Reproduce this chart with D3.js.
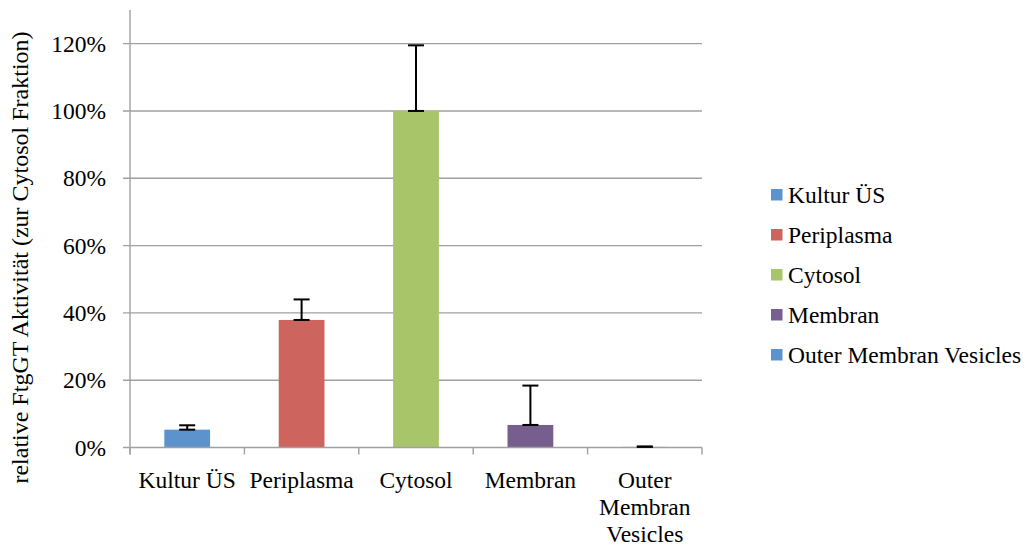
<!DOCTYPE html>
<html>
<head>
<meta charset="utf-8">
<script src="https://cdnjs.cloudflare.com/ajax/libs/d3/7.8.5/d3.min.js"></script>
<style>
  html, body { margin: 0; padding: 0; background: #fff; }
  svg { display: block; }
</style>
</head>
<body>
<svg id="chart" width="1027" height="547"></svg>
<script>
// Fractions and their FtgGT activity relative to the cytosol fraction
const categories = ["Kultur ÜS", "Periplasma", "Cytosol", "Membran", "Outer Membran Vesicles"];
const axisLabels = [["Kultur ÜS"], ["Periplasma"], ["Cytosol"], ["Membran"], ["Outer", "Membran", "Vesicles"]];
const values = [0.053, 0.379, 1.0, 0.067, 0.002];
const errors = [0.013, 0.061, 0.195, 0.117, 0.001];
const colors = ["#5C93CD", "#CD645D", "#A8C56A", "#765E8E", "#9DBEE3"];
const legendColors = ["#5C93CD", "#CD645D", "#A8C56A", "#765E8E", "#5C93CD"];
const yTicks = [0, 0.2, 0.4, 0.6, 0.8, 1.0, 1.2];
const yTitle = "relative FtgGT Aktivität (zur Cytosol Fraktion)";

(function () {
  const serif = "'Liberation Serif', 'DejaVu Serif', serif";
  const svg = d3.select("#chart")
    .attr("font-family", serif)
    .style("font-family", serif);
  const fontSize = 23.5;
  const gridColor = "#A0A0A0";

  const plotLeft = 130, plotRight = 702, plotTop = 10, plotBottom = 447.5;

  const x = d3.scaleBand()
    .domain(categories)
    .range([plotLeft, plotRight])
    .paddingInner(0.6)
    .paddingOuter(0.3);

  const y = d3.scaleLinear()
    .domain([0, 1.3])
    .range([plotBottom, plotTop]);

  // Horizontal gridlines (with short ticks left of the axis)
  svg.append("g")
    .selectAll("line")
    .data(yTicks.filter(d => d > 0))
    .join("line")
    .attr("x1", plotLeft - 7)
    .attr("x2", plotRight)
    .attr("y1", d => y(d))
    .attr("y2", d => y(d))
    .attr("stroke", gridColor)
    .attr("stroke-width", 1.4);

  // Y tick labels
  svg.append("g")
    .selectAll("text")
    .data(yTicks)
    .join("text")
    .attr("x", plotLeft - 24)
    .attr("y", d => y(d))
    .attr("dy", "0.35em")
    .attr("text-anchor", "end")
    .style("font-family", serif)
    .style("font-size", fontSize + "px")
    .text(d => d3.format(".0%")(d));

  // Bars
  svg.append("g")
    .selectAll("rect")
    .data(categories)
    .join("rect")
    .attr("x", d => x(d))
    .attr("width", x.bandwidth())
    .attr("y", (d, i) => y(values[i]))
    .attr("height", (d, i) => Math.max(1, plotBottom - y(values[i])))
    .attr("fill", (d, i) => colors[i]);

  // Axis lines
  svg.append("line")
    .attr("x1", plotLeft - 7).attr("x2", plotRight)
    .attr("y1", y(0)).attr("y2", y(0))
    .attr("stroke", gridColor).attr("stroke-width", 1.4);
  svg.append("line")
    .attr("x1", plotLeft).attr("x2", plotLeft)
    .attr("y1", plotTop).attr("y2", plotBottom + 7)
    .attr("stroke", gridColor).attr("stroke-width", 1.4);

  // Category boundary ticks
  const step = x.step();
  svg.append("g")
    .selectAll("line")
    .data(d3.range(categories.length + 1))
    .join("line")
    .attr("x1", i => plotLeft + i * step)
    .attr("x2", i => plotLeft + i * step)
    .attr("y1", plotBottom)
    .attr("y2", plotBottom + 7)
    .attr("stroke", gridColor)
    .attr("stroke-width", 1.4);

  // Error bars (plus direction, capped at both ends)
  const capHalf = 8;
  const eb = svg.append("g").attr("stroke", "#000").attr("stroke-width", 2);
  categories.forEach((c, i) => {
    const cx = x(c) + x.bandwidth() / 2;
    const y0 = y(values[i]);
    const y1 = y(values[i] + errors[i]);
    eb.append("line").attr("x1", cx).attr("x2", cx).attr("y1", y0).attr("y2", y1);
    eb.append("line").attr("x1", cx - capHalf).attr("x2", cx + capHalf).attr("y1", y0).attr("y2", y0);
    eb.append("line").attr("x1", cx - capHalf).attr("x2", cx + capHalf).attr("y1", y1).attr("y2", y1);
  });

  // Category labels
  const catText = svg.append("g")
    .selectAll("text")
    .data(categories)
    .join("text")
    .attr("x", d => x(d) + x.bandwidth() / 2)
    .attr("y", 487.7)
    .attr("text-anchor", "middle")
    .style("font-family", serif)
    .style("font-size", fontSize + "px");
  catText.each(function (d, i) {
    const t = d3.select(this);
    axisLabels[i].forEach((line, k) => {
      t.append("tspan")
        .attr("x", x(d) + x.bandwidth() / 2)
        .attr("dy", k === 0 ? 0 : 27)
        .text(line);
    });
  });

  // Y axis title
  svg.append("text")
    .attr("transform", "translate(28,257.5) rotate(-90)")
    .attr("text-anchor", "middle")
    .style("font-family", serif)
    .style("font-size", "24px")
    .text(yTitle);

  // Legend
  const legend = svg.append("g")
    .selectAll("g")
    .data(categories)
    .join("g")
    .attr("transform", (d, i) => `translate(771,${195 + i * 40})`);
  legend.append("rect")
    .attr("x", 0).attr("y", -6)
    .attr("width", 11.5).attr("height", 11.5)
    .attr("fill", (d, i) => legendColors[i]);
  legend.append("text")
    .attr("x", 17)
    .attr("y", 0)
    .attr("dy", "0.35em")
    .style("font-family", serif)
    .style("font-size", fontSize + "px")
    .text(d => d);
})();
</script>
</body>
</html>
